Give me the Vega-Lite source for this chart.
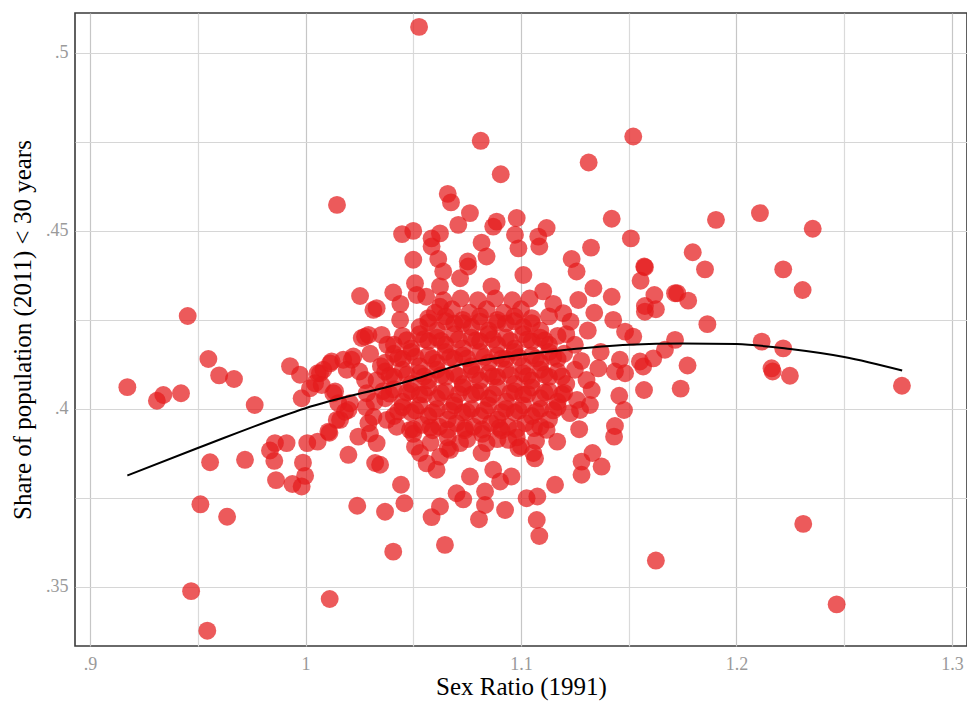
{
  "$schema": "https://vega.github.io/schema/vega-lite/v6.json",
  "width": 892,
  "height": 633,
  "autosize": {"type": "none"},
  "padding": {"left": 75, "top": 13, "right": 0, "bottom": 59},
  "background": "white",
  "config": {
    "view": {"stroke": "#3a3a3a", "strokeWidth": 1.6},
    "axis": {
      "labelFont": "Liberation Serif",
      "titleFont": "Liberation Serif",
      "labelFontSize": 18,
      "labelColor": "#9a9a9a",
      "titleFontSize": 25,
      "titleFontWeight": "normal",
      "titleColor": "#000000",
      "ticks": false,
      "domain": false,
      "grid": true,
      "gridWidth": 1.2
    }
  },
  "datasets": {
    "pts": [
      {"x":0.9173,"y":0.4061},{"x":0.931,"y":0.4023},{"x":0.934,"y":0.4039},{"x":0.9422,"y":0.4044},{"x":0.9453,"y":0.4261},{"x":0.9549,"y":0.414},{"x":0.9599,"y":0.4094},{"x":0.9668,"y":0.4084},{"x":0.9764,"y":0.4011},{"x":0.9557,"y":0.385},{"x":0.9719,"y":0.3857},{"x":0.9512,"y":0.3732},{"x":0.9636,"y":0.3697},{"x":0.9469,"y":0.3488},{"x":0.9544,"y":0.3377},{"x":1.0112,"y":0.3466},{"x":1.024,"y":0.3728},{"x":1.0253,"y":0.4317},{"x":0.9928,"y":0.412},{"x":0.9974,"y":0.4096},{"x":0.9982,"y":0.403},{"x":1.0021,"y":0.4058},{"x":1.0083,"y":0.411},{"x":1.0121,"y":0.4133},{"x":1.0075,"y":0.4067},{"x":1.0137,"y":0.4049},{"x":1.0214,"y":0.4138},{"x":1.0191,"y":0.411},{"x":1.0152,"y":0.4016},{"x":1.0199,"y":0.3997},{"x":1.016,"y":0.3969},{"x":1.0111,"y":0.3933},{"x":1.0261,"y":0.4199},{"x":1.0292,"y":0.4208},{"x":1.0315,"y":0.4278},{"x":1.0276,"y":0.4081},{"x":1.0292,"y":0.396},{"x":1.0245,"y":0.3922},{"x":1.0199,"y":0.3871},{"x":0.9858,"y":0.3904},{"x":0.9912,"y":0.3904},{"x":0.9835,"y":0.3883},{"x":0.9855,"y":0.3854},{"x":1.0008,"y":0.3904},{"x":0.9988,"y":0.3849},{"x":0.9998,"y":0.3812},{"x":0.9863,"y":0.38},{"x":0.9939,"y":0.3789},{"x":0.9982,"y":0.3782},{"x":1.0323,"y":0.3848},{"x":1.0146,"y":0.4573},{"x":1.0527,"y":0.5073},
      {"x":1.0813,"y":0.4753},{"x":1.1521,"y":0.4765},{"x":1.0906,"y":0.4659},{"x":1.1314,"y":0.4692},{"x":1.066,"y":0.4604},{"x":1.0675,"y":0.458},{"x":1.0763,"y":0.455},{"x":1.0709,"y":0.4517},{"x":1.1421,"y":0.4534},{"x":1.151,"y":0.4479},{"x":1.1325,"y":0.4453},{"x":1.0448,"y":0.4491},{"x":1.05,"y":0.45},{"x":1.0585,"y":0.4479},{"x":1.0624,"y":0.4493},{"x":1.0585,"y":0.4456},{"x":1.0871,"y":0.4512},{"x":1.0887,"y":0.4526},{"x":1.098,"y":0.4536},{"x":1.0972,"y":0.4489},{"x":1.0988,"y":0.4451},{"x":1.108,"y":0.4484},{"x":1.1119,"y":0.4508},{"x":1.1085,"y":0.4456},{"x":1.0817,"y":0.4467},{"x":1.05,"y":0.4419},{"x":1.0616,"y":0.4421},{"x":1.0639,"y":0.4386},{"x":1.0753,"y":0.4414},{"x":1.084,"y":0.4428},{"x":1.1235,"y":0.4421},{"x":1.1258,"y":0.4386},{"x":1.1572,"y":0.44},{"x":1.1555,"y":0.436},{"x":1.1619,"y":0.432},{"x":1.1715,"y":0.4325},{"x":1.1575,"y":0.4289},{"x":1.1626,"y":0.428},{"x":1.1421,"y":0.4315},{"x":1.1336,"y":0.4339},{"x":1.0407,"y":0.4327},{"x":1.033,"y":0.4283},{"x":1.0508,"y":0.4353},{"x":1.0516,"y":0.432},{"x":1.0624,"y":0.4344},{"x":1.0717,"y":0.4367},{"x":1.0755,"y":0.44},{"x":1.0863,"y":0.4344},{"x":1.1011,"y":0.4376},{"x":1.1103,"y":0.433},{"x":1.1196,"y":0.4269},{"x":1.1266,"y":0.4306},{"x":1.1428,"y":0.425},{"x":1.1483,"y":0.4217},{"x":1.1521,"y":0.4203},{"x":1.0276,"y":0.4203},{"x":1.0353,"y":0.4208},{"x":1.0439,"y":0.425},{"x":1.0624,"y":0.4287},
      {"x":1.1905,"y":0.4531},{"x":1.2109,"y":0.455},{"x":1.2354,"y":0.4506},{"x":1.1797,"y":0.444},{"x":1.1854,"y":0.4392},{"x":1.2217,"y":0.4392},{"x":1.2307,"y":0.4334},{"x":1.1725,"y":0.4325},{"x":1.1776,"y":0.4304},{"x":1.1865,"y":0.4238},{"x":1.1575,"y":0.4398},{"x":1.1575,"y":0.4273},{"x":1.1715,"y":0.4194},{"x":1.1668,"y":0.4166},{"x":1.1614,"y":0.4142},{"x":1.1567,"y":0.4119},{"x":1.1773,"y":0.4122},{"x":1.1741,"y":0.4057},{"x":1.1571,"y":0.4053},{"x":1.2117,"y":0.4189},{"x":1.2217,"y":0.417},{"x":1.2163,"y":0.4114},{"x":1.2168,"y":0.4105},{"x":1.2248,"y":0.4093},{"x":1.2768,"y":0.4065},{"x":1.231,"y":0.3677},{"x":1.1626,"y":0.3574},{"x":1.2465,"y":0.3451},
      {"x":1.0106,"y":0.3936},{"x":1.0346,"y":0.3843},{"x":1.0056,"y":0.3908},{"x":1.0369,"y":0.3711},{"x":1.0443,"y":0.3787},{"x":1.0459,"y":0.3735},{"x":1.0407,"y":0.3599},{"x":1.0647,"y":0.3618},{"x":1.0585,"y":0.3696},{"x":1.0624,"y":0.3726},{"x":1.0701,"y":0.3763},{"x":1.0732,"y":0.3746},{"x":1.0805,"y":0.369},{"x":1.0833,"y":0.373},{"x":1.0833,"y":0.3768},{"x":1.0763,"y":0.381},{"x":1.0926,"y":0.3716},{"x":1.0956,"y":0.381},{"x":1.0903,"y":0.3796},{"x":1.0871,"y":0.3829},{"x":1.1026,"y":0.3749},{"x":1.1076,"y":0.3754},{"x":1.1073,"y":0.3688},{"x":1.1085,"y":0.3643},{"x":1.1158,"y":0.3787},{"x":1.1065,"y":0.3861},{"x":1.1168,"y":0.3908},{"x":1.127,"y":0.3943},{"x":1.1281,"y":0.3852},{"x":1.1281,"y":0.3815},{"x":1.1374,"y":0.3838},{"x":1.1332,"y":0.3876},{"x":1.1432,"y":0.3922},{"x":1.1436,"y":0.3952},{"x":1.1478,"y":0.3997},{"x":1.1456,"y":0.4037},{"x":1.1483,"y":0.41},{"x":1.1436,"y":0.4105},{"x":1.1359,"y":0.4114},{"x":1.1304,"y":0.4081},{"x":1.1328,"y":0.4053},{"x":1.1274,"y":0.3997},{"x":1.132,"y":0.4011},{"x":1.1227,"y":0.3988},{"x":1.1552,"y":0.4133},{"x":1.1459,"y":0.4138},{"x":1.1119,"y":0.3941},{"x":1.1057,"y":0.3876},{"x":1.0988,"y":0.389},{"x":1.0941,"y":0.3913},{"x":1.084,"y":0.3904},{"x":1.0817,"y":0.3876},{"x":1.0717,"y":0.3904},{"x":1.0671,"y":0.3885},{"x":1.0608,"y":0.3829},{"x":1.0531,"y":0.3876},{"x":1.0562,"y":0.3847},{"x":1.0508,"y":0.3894},{"x":1.0624,"y":0.3866},{"x":1.0299,"y":0.3931},{"x":1.033,"y":0.3904},{"x":1.0145,"y":0.3969},{"x":1.0183,"y":0.3992},{"x":1.0423,"y":0.395},{"x":1.0377,"y":0.3969},{"x":1.0485,"y":0.3941},{"x":1.0067,"y":0.41},{"x":1.0114,"y":0.4128},{"x":1.0175,"y":0.4138},{"x":1.0222,"y":0.4147},{"x":1.0056,"y":0.41},{"x":1.0044,"y":0.4072},{"x":1.0129,"y":0.4044},{"x":1.0206,"y":0.4016},{"x":1.0284,"y":0.4044},{"x":1.0315,"y":0.3978},
      {"x":1.125,"y":0.418},{"x":1.131,"y":0.422},{"x":1.137,"y":0.416},{"x":1.121,"y":0.421},{"x":1.134,"y":0.427},{"x":1.035,"y":0.412},{"x":1.038,"y":0.418},{"x":1.032,"y":0.402},{"x":1.036,"y":0.405},
      {"x":1.05,"y":0.393},{"x":1.059,"y":0.394},{"x":1.066,"y":0.392},{"x":1.074,"y":0.394},{"x":1.082,"y":0.393},{"x":1.091,"y":0.394},{"x":1.098,"y":0.392},
      {"x":1.041,"y":0.398},{"x":1.049,"y":0.399},{"x":1.057,"y":0.398},{"x":1.066,"y":0.397},{"x":1.073,"y":0.399},{"x":1.081,"y":0.398},{"x":1.089,"y":0.397},{"x":1.097,"y":0.399},{"x":1.105,"y":0.398},{"x":1.113,"y":0.397},
      {"x":1.037,"y":0.403},{"x":1.045,"y":0.402},{"x":1.053,"y":0.404},{"x":1.061,"y":0.403},{"x":1.069,"y":0.402},{"x":1.077,"y":0.404},{"x":1.085,"y":0.403},{"x":1.093,"y":0.402},{"x":1.101,"y":0.404},{"x":1.109,"y":0.403},{"x":1.117,"y":0.402},
      {"x":1.033,"y":0.408},{"x":1.041,"y":0.409},{"x":1.049,"y":0.407},{"x":1.057,"y":0.408},{"x":1.065,"y":0.409},{"x":1.073,"y":0.407},{"x":1.081,"y":0.408},{"x":1.089,"y":0.409},{"x":1.097,"y":0.407},{"x":1.105,"y":0.408},{"x":1.113,"y":0.409},{"x":1.121,"y":0.407},
      {"x":1.037,"y":0.413},{"x":1.045,"y":0.414},{"x":1.053,"y":0.412},{"x":1.061,"y":0.413},{"x":1.069,"y":0.414},{"x":1.077,"y":0.412},{"x":1.085,"y":0.413},{"x":1.093,"y":0.414},{"x":1.101,"y":0.412},{"x":1.109,"y":0.413},{"x":1.117,"y":0.414},
      {"x":1.041,"y":0.418},{"x":1.049,"y":0.417},{"x":1.057,"y":0.419},{"x":1.065,"y":0.418},{"x":1.073,"y":0.417},{"x":1.081,"y":0.419},{"x":1.089,"y":0.418},{"x":1.097,"y":0.417},{"x":1.105,"y":0.419},{"x":1.113,"y":0.418},
      {"x":1.053,"y":0.423},{"x":1.061,"y":0.422},{"x":1.069,"y":0.424},{"x":1.077,"y":0.423},{"x":1.085,"y":0.422},{"x":1.093,"y":0.424},{"x":1.101,"y":0.423},{"x":1.109,"y":0.422},
      {"x":1.06,"y":0.427},{"x":1.068,"y":0.428},{"x":1.076,"y":0.427},{"x":1.084,"y":0.428},{"x":1.092,"y":0.427},{"x":1.1,"y":0.428},
      {"x":1.054,"y":0.3955},{"x":1.062,"y":0.395},{"x":1.07,"y":0.396},{"x":1.078,"y":0.395},{"x":1.086,"y":0.396},{"x":1.094,"y":0.395},{"x":1.102,"y":0.396},{"x":1.109,"y":0.395},
      {"x":1.045,"y":0.4005},{"x":1.053,"y":0.401},{"x":1.061,"y":0.4},{"x":1.069,"y":0.401},{"x":1.077,"y":0.4},{"x":1.085,"y":0.401},{"x":1.093,"y":0.4},{"x":1.101,"y":0.401},{"x":1.109,"y":0.4},{"x":1.117,"y":0.4005},
      {"x":1.041,"y":0.4055},{"x":1.049,"y":0.405},{"x":1.057,"y":0.406},{"x":1.065,"y":0.405},{"x":1.073,"y":0.406},{"x":1.081,"y":0.405},{"x":1.089,"y":0.406},{"x":1.097,"y":0.405},{"x":1.105,"y":0.406},{"x":1.113,"y":0.405},{"x":1.12,"y":0.4045},
      {"x":1.037,"y":0.4105},{"x":1.045,"y":0.411},{"x":1.053,"y":0.41},{"x":1.061,"y":0.411},{"x":1.069,"y":0.41},{"x":1.077,"y":0.411},{"x":1.085,"y":0.41},{"x":1.093,"y":0.411},{"x":1.101,"y":0.41},{"x":1.109,"y":0.411},{"x":1.117,"y":0.4105},{"x":1.125,"y":0.411},
      {"x":1.041,"y":0.4155},{"x":1.049,"y":0.416},{"x":1.057,"y":0.415},{"x":1.065,"y":0.416},{"x":1.073,"y":0.415},{"x":1.081,"y":0.416},{"x":1.089,"y":0.415},{"x":1.097,"y":0.416},{"x":1.105,"y":0.415},{"x":1.113,"y":0.416},{"x":1.12,"y":0.4155},
      {"x":1.045,"y":0.4205},{"x":1.053,"y":0.421},{"x":1.061,"y":0.42},{"x":1.069,"y":0.421},{"x":1.077,"y":0.42},{"x":1.085,"y":0.421},{"x":1.093,"y":0.42},{"x":1.101,"y":0.421},{"x":1.109,"y":0.42},{"x":1.117,"y":0.4205},
      {"x":1.057,"y":0.4255},{"x":1.065,"y":0.426},{"x":1.073,"y":0.425},{"x":1.081,"y":0.426},{"x":1.089,"y":0.425},{"x":1.097,"y":0.426},{"x":1.105,"y":0.4255},{"x":1.113,"y":0.426},
      {"x":1.064,"y":0.4305},{"x":1.072,"y":0.431},{"x":1.08,"y":0.4305},{"x":1.088,"y":0.431},{"x":1.096,"y":0.4305},{"x":1.104,"y":0.431},
      {"x":1.058,"y":0.3905},{"x":1.066,"y":0.389},{"x":1.075,"y":0.3915},{"x":1.089,"y":0.3915},{"x":1.1,"y":0.3895},{"x":1.107,"y":0.391},
      {"x":1.028,"y":0.4005},{"x":1.025,"y":0.4105},{"x":1.03,"y":0.4155},{"x":1.044,"y":0.4295},{"x":1.056,"y":0.4315},{"x":1.115,"y":0.4295},{"x":1.123,"y":0.4245},{"x":1.126,"y":0.4025},{"x":1.128,"y":0.4135},
      {"x":1.05,"y":0.3943},{"x":1.058,"y":0.3948},{"x":1.066,"y":0.3941},{"x":1.074,"y":0.3946},{"x":1.082,"y":0.3942},{"x":1.09,"y":0.3947},{"x":1.098,"y":0.3943},{"x":1.106,"y":0.3946},
      {"x":1.043,"y":0.3993},{"x":1.051,"y":0.3996},{"x":1.059,"y":0.3991},{"x":1.067,"y":0.3995},{"x":1.075,"y":0.3992},{"x":1.083,"y":0.3996},{"x":1.091,"y":0.3991},{"x":1.099,"y":0.3995},{"x":1.107,"y":0.3992},{"x":1.115,"y":0.3996},
      {"x":1.039,"y":0.4043},{"x":1.047,"y":0.4046},{"x":1.055,"y":0.4041},{"x":1.063,"y":0.4045},{"x":1.071,"y":0.4042},{"x":1.079,"y":0.4046},{"x":1.087,"y":0.4041},{"x":1.095,"y":0.4045},{"x":1.103,"y":0.4042},{"x":1.111,"y":0.4046},{"x":1.119,"y":0.4041},
      {"x":1.039,"y":0.4093},{"x":1.047,"y":0.4096},{"x":1.055,"y":0.4091},{"x":1.063,"y":0.4095},{"x":1.071,"y":0.4092},{"x":1.079,"y":0.4096},{"x":1.087,"y":0.4091},{"x":1.095,"y":0.4095},{"x":1.103,"y":0.4092},{"x":1.111,"y":0.4096},{"x":1.119,"y":0.4091},
      {"x":1.043,"y":0.4143},{"x":1.051,"y":0.4146},{"x":1.059,"y":0.4141},{"x":1.067,"y":0.4145},{"x":1.075,"y":0.4142},{"x":1.083,"y":0.4146},{"x":1.091,"y":0.4141},{"x":1.099,"y":0.4145},{"x":1.107,"y":0.4142},{"x":1.115,"y":0.4146},
      {"x":1.047,"y":0.4193},{"x":1.055,"y":0.4196},{"x":1.063,"y":0.4191},{"x":1.071,"y":0.4195},{"x":1.079,"y":0.4192},{"x":1.087,"y":0.4196},{"x":1.095,"y":0.4191},{"x":1.103,"y":0.4195},{"x":1.111,"y":0.4192},
      {"x":1.057,"y":0.4243},{"x":1.065,"y":0.4246},{"x":1.073,"y":0.4241},{"x":1.081,"y":0.4245},{"x":1.089,"y":0.4242},{"x":1.097,"y":0.4246},{"x":1.105,"y":0.4241}
    ],
    "fit": [
      {"x":0.9173,"y":0.3813},{"x":0.95,"y":0.389},{"x":1.0,"y":0.4002},{"x":1.05,"y":0.4082},{"x":1.0717,"y":0.4124},{"x":1.1,"y":0.4152},{"x":1.1212,"y":0.4166},{"x":1.15,"y":0.418},{"x":1.175,"y":0.4184},{"x":1.2,"y":0.4182},{"x":1.225,"y":0.4168},{"x":1.25,"y":0.4146},{"x":1.2769,"y":0.4108}
    ]
  },
  "layer": [
    {
      "data": {"name": "pts"},
      "mark": {"type": "circle", "size": 320, "color": "#e41a1c", "opacity": 0.72},
      "encoding": {
        "x": {
          "field": "x", "type": "quantitative",
          "scale": {"domain": [0.893, 1.307], "zero": false, "nice": false},
          "axis": {
            "title": "Sex Ratio (1991)",
            "values": [0.9, 0.95, 1, 1.05, 1.1, 1.15, 1.2, 1.25, 1.3],
            "labelExpr": "(round(datum.value*100) % 10 == 0) ? replace(format(datum.value, '~g'), '0.', '.') : ''",
            "labelPadding": 9,
            "titlePadding": 1,
            "gridColor": {"condition": {"test": "round(datum.value*100) % 10 == 0", "value": "#c6c6c6"}, "value": "#dadada"}
          }
        },
        "y": {
          "field": "y", "type": "quantitative",
          "scale": {"domain": [0.3334, 0.5112], "zero": false, "nice": false},
          "axis": {
            "title": "Share of population (2011) < 30 years",
            "values": [0.35, 0.375, 0.4, 0.425, 0.45, 0.475, 0.5],
            "labelExpr": "(round(datum.value*1000) % 50 == 0) ? replace(format(datum.value, '~g'), '0.', '.') : ''",
            "labelPadding": 7,
            "titlePadding": 10,
            "gridColor": "#d6d6d6"
          }
        }
      }
    },
    {
      "data": {"name": "fit"},
      "mark": {"type": "line", "color": "#000000", "strokeWidth": 2, "interpolate": "monotone"},
      "encoding": {
        "x": {"field": "x", "type": "quantitative"},
        "y": {"field": "y", "type": "quantitative"}
      }
    }
  ]
}
